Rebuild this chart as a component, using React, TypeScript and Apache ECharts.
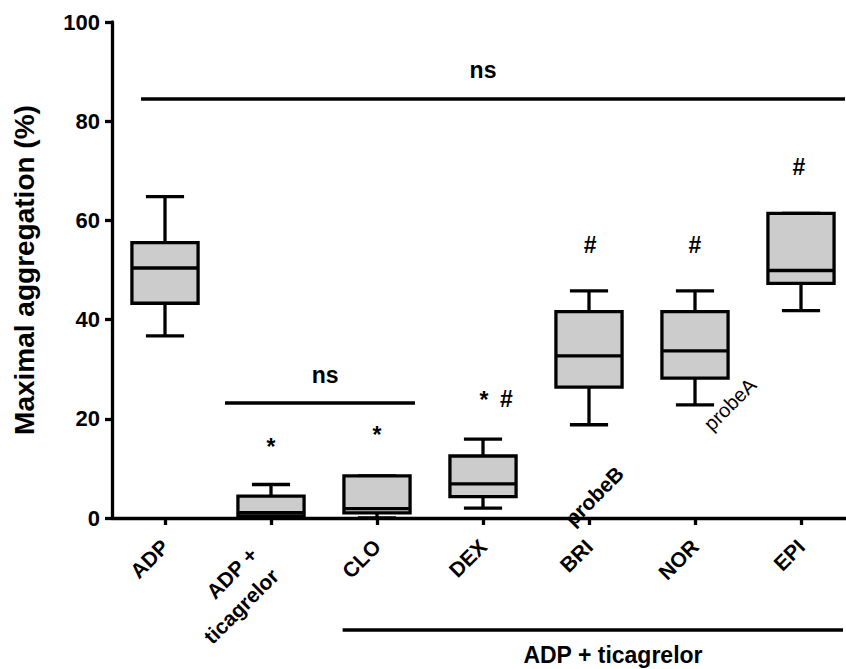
import React, { useEffect, useRef } from 'react';
import * as echarts from 'echarts';

// ---- data ----
const categories = ['ADP', 'ADP +\nticagrelor', 'CLO', 'DEX', 'BRI', 'NOR', 'EPI'];
const minValues = [36.7, 0, 0, 2.0, 18.8, 22.8, 41.8];
const q1Values = [43.3, 0.4, 1.05, 4.3, 26.4, 28.2, 47.3];
const medianValues = [50.4, 1.1, 1.9, 6.9, 32.7, 33.7, 49.9];
const q3Values = [55.5, 4.4, 8.5, 12.5, 41.6, 41.6, 61.4];
const maxValues = [64.8, 6.75, 8.5, 15.9, 45.8, 45.8, 61.4];

const yMin = 0;
const yMax = 100;
const yStep = 20;

const bracketStart = [-0.226, 0.566, 1.676];
const bracketEnd = [6.415, 2.358, 6.396];
const bracketLevel = [84.5, 23.2, -22.6];

const noteLabels = ['ns', 'ns', 'ADP + ticagrelor', '*', '*', '*', '#', '#', '#', '#'];
const noteX = [3.0, 1.51, 4.226, 1.0, 2.0, 3.01, 3.22, 4.01, 5.0, 5.98];
const noteY = [90.3, 28.8, -27.6, 14.4, 16.8, 23.8, 24.0, 55.0, 55.0, 70.8];

const FONT = '"Liberation Sans", Arial, Helvetica, sans-serif';

const GRID_LEFT = 112;
const BAND = 106;
const WIDTH = 846;
const X_MIN = -0.5;
const X_MAX = X_MIN + (WIDTH - GRID_LEFT) / BAND;

export default function App() {
  const ref = useRef<HTMLDivElement>(null);

  useEffect(() => {
    document.body.style.margin = '0';
    const chart = echarts.init(ref.current as HTMLDivElement, null, { renderer: 'svg' });

    const boxData = categories.map((_, i) => [i, minValues[i], q1Values[i], medianValues[i], q3Values[i], maxValues[i]]);
    const bracketData = bracketStart.map((s, i) => [s, bracketEnd[i], bracketLevel[i]]);
    const noteData = noteX.map((x, i) => [x, noteY[i]]);
    const black = '#000000';
    const lw = 3.3;

    const ang = Math.PI / 4;
    const c = Math.cos(ang);
    const s = Math.sin(ang);

    chart.setOption({
      animation: false,
      grid: { left: GRID_LEFT, right: 0, top: 22, bottom: 151, containLabel: false },
      xAxis: {
        type: 'value',
        min: X_MIN,
        max: X_MAX,
        axisLine: { show: true, onZero: false, lineStyle: { color: black, width: lw } },
        axisTick: { show: true, customValues: categories.map((_, i) => i), length: 7, lineStyle: { color: black, width: lw } },
        axisLabel: { show: false },
        splitLine: { show: false },
      },
      yAxis: {
        type: 'value',
        min: yMin,
        max: yMax,
        interval: yStep,
        name: 'Maximal aggregation (%)',
        nameLocation: 'middle',
        nameGap: 74,
        nameTextStyle: { color: black, fontSize: 28, fontWeight: 'bold', fontFamily: FONT },
        axisLine: { show: true, onZero: false, lineStyle: { color: black, width: lw } },
        axisTick: { show: true, length: 7, lineStyle: { color: black, width: lw } },
        axisLabel: { margin: 12, color: black, fontSize: 22, fontWeight: 'bold', fontFamily: FONT },
        splitLine: { show: false },
      },
      series: [
        {
          type: 'custom',
          name: 'boxes',
          data: boxData,
          encode: { x: 0, y: [1, 2, 3, 4, 5] },
          renderItem: (params: any, api: any) => {
            const i = api.value(0);
            const x = api.coord([i, api.value(1)])[0];
            const yLo = api.coord([i, api.value(1)])[1];
            const yQ1 = api.coord([i, api.value(2)])[1];
            const yMed = api.coord([i, api.value(3)])[1];
            const yQ3 = api.coord([i, api.value(4)])[1];
            const yHi = api.coord([i, api.value(5)])[1];
            const band = api.size([1, 0])[0];
            const halfBox = band * 0.312;
            const halfCap = band * 0.18;
            const st = { stroke: black, lineWidth: lw, fill: 'none' };
            return {
              type: 'group',
              children: [
                { type: 'line', shape: { x1: x, y1: yLo, x2: x, y2: yQ1 }, style: st },
                { type: 'line', shape: { x1: x, y1: yQ3, x2: x, y2: yHi }, style: st },
                { type: 'line', shape: { x1: x - halfCap, y1: yLo, x2: x + halfCap, y2: yLo }, style: st },
                { type: 'line', shape: { x1: x - halfCap, y1: yHi, x2: x + halfCap, y2: yHi }, style: st },
                { type: 'rect', shape: { x: x - halfBox, y: yQ3, width: halfBox * 2, height: yQ1 - yQ3 }, style: { fill: '#cccccc', stroke: black, lineWidth: lw } },
                { type: 'line', shape: { x1: x - halfBox, y1: yMed, x2: x + halfBox, y2: yMed }, style: st },
              ],
            };
          },
          z: 3,
        },
        {
          type: 'custom',
          name: 'brackets',
          data: bracketData,
          encode: { x: [0, 1], y: 2 },
          renderItem: (params: any, api: any) => {
            const p1 = api.coord([api.value(0), api.value(2)]);
            const p2 = api.coord([api.value(1), api.value(2)]);
            return { type: 'line', shape: { x1: p1[0], y1: p1[1], x2: p2[0], y2: p2[1] }, style: { stroke: black, lineWidth: 3.5 } };
          },
          z: 4,
        },
        {
          type: 'custom',
          name: 'notes',
          data: noteData,
          encode: { x: 0, y: 1 },
          renderItem: (params: any, api: any) => {
            const p = api.coord([api.value(0), api.value(1)]);
            return {
              type: 'text',
              x: p[0],
              y: p[1],
              style: { text: noteLabels[params.dataIndex], fill: black, fontSize: 23, fontWeight: 'bold', fontFamily: FONT, align: 'center', verticalAlign: 'middle' },
            };
          },
          z: 5,
        },
      ],
    });

    const labelElements: any[] = [];
    categories.forEach((cat, i) => {
      const p = chart.convertToPixel({ gridIndex: 0 }, [i, yMin]) as number[];
      const ax = p[0];
      const ay = p[1] + 25;
      const lines = cat.split('\n');
      const n = lines.length;
      const endShift = n > 1 ? -18 : 0;
      const downShift = n > 1 ? 8.5 : 0;
      lines.forEach((line, k) => {
        const lx = endShift;
        const ly = (k - (n - 1) / 2) * 30 + downShift;
        labelElements.push({
          type: 'text',
          x: ax + lx * c + ly * s,
          y: ay - lx * s + ly * c,
          rotation: ang,
          style: { text: line, fill: black, fontSize: 21, fontWeight: 'bold', fontFamily: FONT, align: 'right', verticalAlign: 'middle' },
        });
      });
    });
    // diagnostic rotated texts in empty space
    labelElements.push({ type: 'text', x: 700, y: 420, rotation: ang, style: { text: 'probeA', fontSize: 20 } });
    labelElements.push({ type: 'text', x: 620, y: 470, rotation: ang, style: { text: 'probeB', fontSize: 21, fontWeight: 'bold', fontFamily: FONT, fill: black, align: 'right', verticalAlign: 'middle' } });
    chart.setOption({ graphic: labelElements });

    return () => chart.dispose();
  }, []);

  return <div ref={ref} style={{ width: 846, height: 669 }} />;
}
